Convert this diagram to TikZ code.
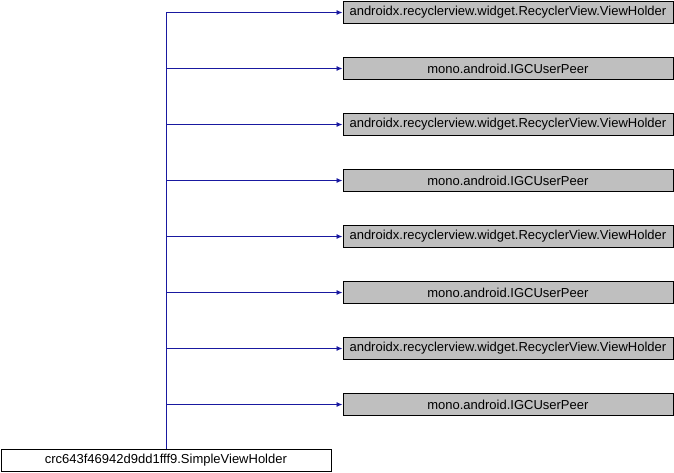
\documentclass[tikz,border=0pt]{standalone}
\usepackage{fontspec}
\setmainfont{Liberation Sans}
\usetikzlibrary{arrows.meta}
\definecolor{edgeblue}{RGB}{25,25,160}
\definecolor{boxgray}{RGB}{191,191,191}
\tikzset{
  base/.style={draw=black, line width=0.8pt, minimum height=22pt, minimum width=330pt, inner sep=0pt, font=\fontsize{13pt}{15pt}\selectfont, anchor=west},
  graybox/.style={base, fill=boxgray},
  whitebox/.style={base, fill=white},
  conn/.style={draw=edgeblue, line width=0.9pt, -{Latex[length=6pt,width=5pt]}}
}
\begin{document}
\begin{tikzpicture}[x=1pt,y=1pt]
\useasboundingbox (0,0) rectangle (674,-472);
\node[whitebox] (src) at (0.5,-460) {crc643f46942d9dd1fff9.SimpleViewHolder};
\coordinate (trunk) at (166,-12.5);
\foreach \i/\t in {1/androidx.recyclerview.widget.RecyclerView.ViewHolder,
                   2/mono.android.IGCUserPeer,
                   3/androidx.recyclerview.widget.RecyclerView.ViewHolder,
                   4/mono.android.IGCUserPeer,
                   5/androidx.recyclerview.widget.RecyclerView.ViewHolder,
                   6/mono.android.IGCUserPeer,
                   7/androidx.recyclerview.widget.RecyclerView.ViewHolder,
                   8/mono.android.IGCUserPeer}{
  \node[graybox] (t\i) at (342.5,{-12.5-56*(\i-1)}) {\t};
  \draw[conn] (166,{-12.5-56*(\i-1)}) -- (t\i.west);
}
\draw[draw=edgeblue, line width=0.9pt] (src.north -| trunk) -- (trunk);
\end{tikzpicture}
\end{document}
